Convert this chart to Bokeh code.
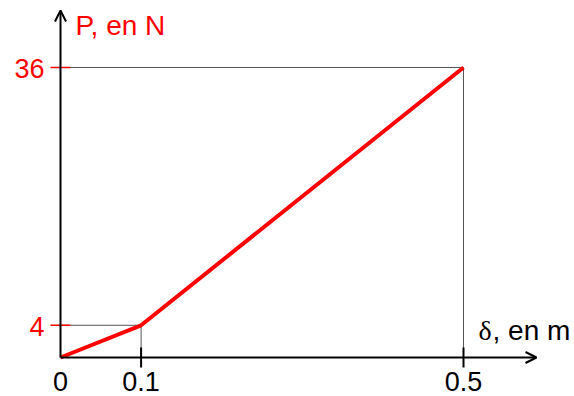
from bokeh.plotting import figure
from bokeh.models import Arrow, OpenHead, Range1d
from bokeh.core.properties import value
from bokeh.embed import file_html
from bokeh.resources import INLINE

# Data
delta = [0.0, 0.1, 0.5]
force = [0.0, 4.0, 36.0]
x_ticks = [0.0, 0.1, 0.5]
x_tick_labels = ["0", "0.1", "0.5"]
y_ticks = [4.0, 36.0]
y_tick_labels = ["4", "36"]
x_title_sym = "δ"
x_title_rest = ", en m"
y_title = "P, en N"

# pixel geometry -> ranges
px_per_x = 806.0
px_per_y = 8.056
ox, oy = 60.0, 357.0  # origin in canvas pixels
W, H = 574, 396

p = figure(width=W, height=H, output_backend="svg", toolbar_location=None,
           x_range=Range1d(-ox / px_per_x, (W - ox) / px_per_x),
           y_range=Range1d(-(H - oy) / px_per_y, oy / px_per_y),
           min_border=0)
p.axis.visible = False
p.grid.visible = False
p.outline_line_color = None

x_axis_end = (536 - ox) / px_per_x
y_axis_end = (oy - 10) / px_per_y

# guide lines
for xv, yv in zip(delta[1:], force[1:]):
    p.line([0, xv, xv], [yv, yv, 0], line_color="#555555", line_width=1)

# axes with arrows
p.add_layout(Arrow(end=OpenHead(size=11, line_width=2, line_color="black"),
                   x_start=0, y_start=0, x_end=x_axis_end, y_end=0,
                   line_width=2, line_color="black"))
p.add_layout(Arrow(end=OpenHead(size=11, line_width=2, line_color="black"),
                   x_start=0, y_start=0, x_end=0, y_end=y_axis_end,
                   line_width=2, line_color="black"))

# ticks
for yv in y_ticks:
    p.segment(x0=-10 / px_per_x, y0=yv, x1=10 / px_per_x, y1=yv,
              line_color="red", line_width=1.5)
for xv in x_ticks[1:]:
    p.segment(x0=xv, y0=-10 / px_per_y, x1=xv, y1=10 / px_per_y,
              line_color="black", line_width=2)

# red curve
p.line(delta, force, line_color="red", line_width=4)

font = value("Liberation Sans")
p.text(x=x_ticks, y=[0] * len(x_ticks), text=x_tick_labels, text_font=font,
       text_font_size="27px", text_color="black", text_align="center",
       text_baseline="middle", y_offset=24)
p.text(x=[0] * len(y_ticks), y=y_ticks, text=y_tick_labels, text_font=font,
       text_font_size="27px", text_color="red", text_align="right",
       text_baseline="middle", x_offset=-16, y_offset=1)
p.text(x=[0], y=[y_axis_end], text=[y_title], text_font=font,
       text_font_size="28px", text_color="red", text_align="left",
       text_baseline="middle", x_offset=15, y_offset=15)
p.text(x=[x_ticks[-1]], y=[0], text=[x_title_sym], text_font=value("Liberation Serif"),
       text_font_size="28px", text_color="black", text_align="left",
       text_baseline="middle", x_offset=15, y_offset=-27)
p.text(x=[x_ticks[-1]], y=[0], text=[x_title_rest], text_font=font,
       text_font_size="28px", text_color="black", text_align="left",
       text_baseline="middle", x_offset=29, y_offset=-27)

open("out.html", "w").write(file_html(p, INLINE))
